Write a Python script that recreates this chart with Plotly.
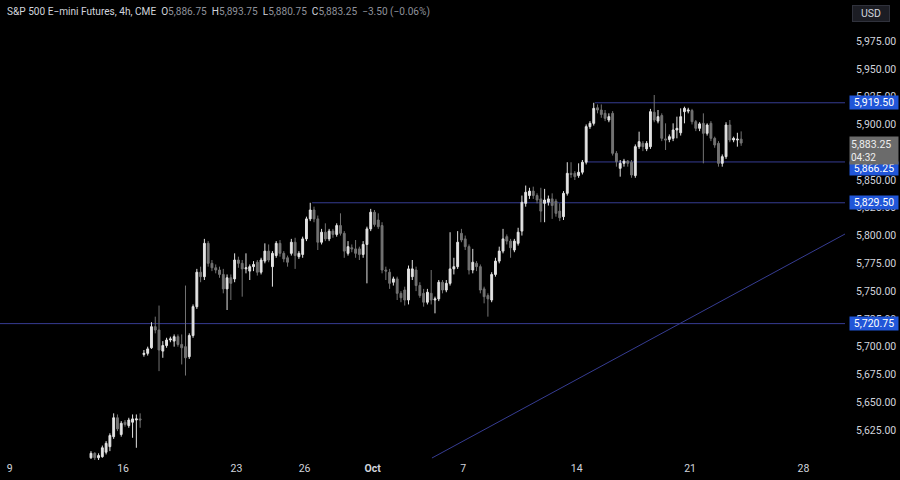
import plotly.graph_objects as go

# ---------------- data (4h candles, S&P 500 E-mini, CME) ----------------
opens = [
    5600, 5604, 5600, 5601, 5605, 5610, 5619, 5636, 5621, 5632,
    5629, 5632, 5634, 5635, 5693, 5694, 5699, 5718, 5715, 5696,
    5701, 5706, 5705, 5709, 5702, 5700, 5691, 5710, 5736, 5767,
    5763, 5793, 5775, 5771, 5769, 5765, 5752, 5762, 5761, 5778,
    5775, 5770, 5768, 5772, 5776, 5767, 5777, 5786, 5772, 5782,
    5793, 5784, 5780, 5784, 5794, 5781, 5783, 5797, 5815, 5823,
    5815, 5794, 5803, 5797, 5804, 5801, 5809, 5802, 5784, 5789,
    5788, 5788, 5783, 5792, 5806, 5821, 5814, 5809, 5769, 5767,
    5758, 5761, 5748, 5751, 5742, 5763, 5769, 5755, 5748, 5740,
    5748, 5742, 5743, 5758, 5751, 5757, 5770, 5772, 5802, 5797,
    5790, 5769, 5775, 5772, 5752, 5746, 5742, 5765, 5777, 5786,
    5799, 5795, 5787, 5793, 5804, 5829, 5836, 5840, 5836, 5833,
    5829, 5830, 5833, 5831, 5822, 5817, 5838, 5856, 5856, 5854,
    5857, 5866, 5898, 5901, 5915, 5913, 5910, 5904, 5910, 5874,
    5860.5, 5865, 5867, 5866, 5854, 5880, 5883, 5878, 5880, 5911,
    5903, 5908, 5887, 5886.5, 5887.5, 5895, 5892.5, 5911.5, 5912, 5912.5,
    5902.5, 5896.5, 5901, 5892, 5901, 5887.5, 5883, 5865, 5871, 5899.5,
    5886, 5886, 5886.75,
]
highs = [
    5606, 5605, 5604, 5611, 5615, 5622, 5640, 5639, 5633, 5634,
    5636, 5639, 5639, 5640, 5697, 5700, 5722, 5727, 5737, 5705,
    5708, 5709, 5711, 5711, 5711, 5755, 5712, 5738, 5770, 5772,
    5797, 5795, 5778, 5774, 5772, 5770, 5765, 5765, 5784, 5781,
    5778, 5784, 5774, 5777, 5778, 5780, 5793, 5792, 5786, 5795,
    5796, 5786, 5782, 5797, 5798, 5786, 5799, 5817, 5829.5, 5826,
    5818, 5806, 5811, 5806, 5806, 5811, 5820, 5804, 5795, 5792,
    5796, 5790, 5795, 5808, 5824, 5823, 5820, 5812, 5772, 5770,
    5763, 5763, 5750, 5754, 5773, 5778, 5772, 5758, 5752, 5752,
    5769, 5745, 5760, 5760, 5760, 5803, 5780, 5804, 5806, 5800,
    5792, 5788, 5777, 5774, 5754, 5748, 5767, 5780, 5790, 5806,
    5801, 5797, 5797, 5807, 5836, 5845, 5843, 5844, 5838, 5843,
    5842, 5836, 5838, 5833, 5829, 5840, 5866, 5866, 5858, 5865,
    5868, 5900, 5903, 5919.5, 5918, 5918, 5913, 5910, 5912, 5876,
    5868, 5869, 5868, 5868, 5882, 5893.5, 5885, 5885, 5914, 5926.5,
    5913, 5910, 5901, 5891, 5901, 5907, 5914.5, 5916, 5915, 5914,
    5904, 5902, 5910, 5901, 5903, 5889, 5885, 5873, 5902, 5904,
    5889, 5892.5, 5893.75,
]
lows = [
    5599, 5598, 5598, 5600, 5603, 5606, 5617, 5624, 5619, 5628,
    5627, 5618, 5609, 5627, 5691, 5692, 5698, 5712, 5678, 5690,
    5699, 5704, 5700, 5700, 5684, 5674, 5689, 5708, 5734, 5758,
    5760, 5772, 5768, 5766, 5762, 5748, 5733, 5742, 5758, 5771,
    5745, 5766, 5760, 5768, 5764, 5765, 5775, 5776, 5754, 5780,
    5781, 5776, 5772, 5782, 5770, 5779, 5780, 5795, 5813, 5812,
    5787, 5792, 5795, 5795, 5798, 5799, 5800, 5780, 5782, 5785,
    5780, 5778, 5780, 5757, 5804, 5808, 5806, 5766, 5760, 5752,
    5755, 5742, 5740, 5737, 5738, 5760, 5750, 5744, 5736, 5738,
    5738, 5730, 5741, 5748, 5749, 5755, 5765, 5770, 5794, 5787,
    5765, 5766, 5768, 5748, 5739, 5727, 5740, 5763, 5775, 5784,
    5792, 5780, 5785, 5791, 5800, 5826, 5833, 5833, 5829, 5812,
    5812, 5827, 5815, 5817, 5813, 5814, 5836, 5852, 5850, 5852,
    5855, 5864, 5896, 5899, 5910, 5906, 5903, 5902, 5872, 5862,
    5853, 5862, 5862, 5852, 5852, 5878, 5876, 5876, 5878, 5902,
    5901, 5885, 5877, 5884, 5885, 5887.5, 5890, 5901, 5910, 5900,
    5894, 5894, 5865, 5890, 5885, 5879, 5862, 5862, 5869, 5884,
    5884, 5880, 5880.75,
]
closes = [
    5604, 5600, 5602, 5609, 5613, 5620, 5636, 5626, 5631, 5630,
    5634, 5635, 5635, 5634, 5694, 5698, 5718, 5715, 5697, 5701,
    5706, 5707, 5709, 5702, 5699, 5690, 5710, 5736, 5767, 5763,
    5793, 5775, 5771, 5769, 5765, 5752, 5762, 5757, 5778, 5775,
    5770, 5771, 5772, 5774, 5767, 5778, 5786, 5778, 5784, 5793,
    5784, 5779, 5776, 5794, 5782, 5784, 5797, 5815, 5823, 5815,
    5794, 5803, 5797, 5804, 5801, 5809, 5802, 5786, 5790, 5788,
    5784, 5783, 5792, 5806, 5821, 5810, 5808, 5769, 5768, 5757,
    5761, 5748, 5744, 5742, 5770, 5770, 5755, 5746, 5740, 5749,
    5742, 5743, 5758, 5751, 5757, 5770, 5772, 5794, 5796, 5790,
    5769, 5776, 5772, 5751, 5745, 5743, 5765, 5777, 5786, 5797,
    5795, 5789, 5795, 5803, 5830, 5839, 5840, 5836, 5832, 5822,
    5832, 5833, 5827, 5820, 5816, 5838, 5856, 5855, 5853, 5857,
    5866, 5898, 5901, 5914.5, 5913, 5909, 5905.5, 5907, 5874, 5866.5,
    5865, 5867, 5865, 5854.5, 5880, 5884.5, 5880, 5883, 5911.5, 5904,
    5907, 5887.5, 5886, 5889, 5895, 5896.5, 5907, 5914.5, 5913, 5902.5,
    5896.5, 5900.5, 5892, 5899.5, 5887.5, 5881.5, 5865, 5871, 5899.5, 5886,
    5887.5, 5886.75, 5883.25,
]

# date axis labels (trading-day offsets from Sep 9; 6 four-hour bars per day)
date_labels = ["9", "16", "23", "26", "<b>Oct</b>", "7", "14", "21", "28"]
date_day_offsets = [0, 5, 10, 13, 16, 20, 25, 30, 35]
first_bar_offset = -22           # bar index of Sep 9 session start
bars_per_day = 6

price_ticks = [5625, 5650, 5675, 5700, 5725, 5750, 5775, 5800, 5825,
               5850, 5900, 5925, 5950, 5975]

# drawn horizontal levels: (price, bar index where line starts)
levels = [5919.50, 5866.25, 5829.50, 5720.75]
level_starts = [133.3, 131.1, 58.5, None]
level_tag_shift = [0, -7, 0, 0]

countdown = "04:32"

# ---------------- styling ----------------
BG = "#000000"
INC = "#e3e3e3"
DEC = "#737373"
LINE = "#363c92"
TAG_BLUE = "#2156d8"
TEXT = "#d1d4dc"
MUTED = "#8f929b"
FONT = "Roboto, 'Noto Sans', sans-serif"

X_MIN, X_MAX = -24.07, 199.47
Y_MIN, Y_MAX = 5598, 6012

idx = list(range(len(closes)))

fig = go.Figure()
fig.add_trace(go.Candlestick(
    x=idx, open=opens, high=highs, low=lows, close=closes,
    increasing=dict(line=dict(color=INC, width=1), fillcolor=INC),
    decreasing=dict(line=dict(color=DEC, width=1), fillcolor=DEC),
    whiskerwidth=0, hoverinfo="skip", showlegend=False,
))

shapes = []
for price, start in zip(levels, level_starts):
    x0 = X_MIN if start is None else start
    shapes.append(dict(type="line", xref="x", yref="y", x0=x0, x1=X_MAX,
                       y0=price, y1=price, line=dict(color=LINE, width=1),
                       layer="below"))
# rising trendline
shapes.append(dict(type="line", xref="x", yref="y", x0=90.2, y0=5599.8,
                   x1=X_MAX, y1=5801.4, line=dict(color=LINE, width=1),
                   layer="below"))

annotations = []
for price, shift in zip(levels, level_tag_shift):
    annotations.append(dict(
        xref="paper", x=1, xanchor="left", xshift=4,
        yref="y", y=price, yanchor="middle", yshift=shift,
        text=f"{price:,.2f}", showarrow=False,
        bgcolor=TAG_BLUE, width=46, height=11, borderpad=1,
        font=dict(family=FONT, size=10.5, color="#ffffff"),
    ))

last = closes[-1]
prev = closes[-2]
chg = last - prev
pct = chg / prev * 100
annotations.append(dict(
    xref="paper", x=1, xanchor="left", xshift=4,
    yref="y", y=last, yanchor="middle", yshift=-7,
    text=f"{last:,.2f}<br><span style='font-size:10px'>{countdown}</span>",
    showarrow=False, align="left",
    bgcolor="#6b6b6b", width=46, height=25, borderpad=1,
    font=dict(family=FONT, size=10.5, color="#eeeeee"),
))

sp = "\u00a0\u00a0"
def fmt(v):
    return f"{v:,.2f}"
title = (f"<span style='color:{TEXT}'>S&amp;P 500 E-mini Futures, 4h, CME</span>{sp}"
         f"<span style='color:{TEXT}'>O</span><span style='color:{MUTED}'>{fmt(opens[-1])}</span>{sp}"
         f"<span style='color:{TEXT}'>H</span><span style='color:{MUTED}'>{fmt(highs[-1])}</span>{sp}"
         f"<span style='color:{TEXT}'>L</span><span style='color:{MUTED}'>{fmt(lows[-1])}</span>{sp}"
         f"<span style='color:{TEXT}'>C</span><span style='color:{MUTED}'>{fmt(last)}</span>{sp}"
         f"<span style='color:{MUTED}'>{chg:+.2f} ({pct:+.2f}%)</span>").replace("-", "\u2212")
annotations.append(dict(
    xref="paper", x=0, xanchor="left", xshift=5,
    yref="paper", y=1, yanchor="top", yshift=-4,
    text=title, showarrow=False,
    font=dict(family=FONT, size=10.1, color=TEXT),
))
annotations.append(dict(
    xref="paper", x=1, xanchor="left", xshift=7,
    yref="paper", y=1, yanchor="top", yshift=-5,
    text="USD", showarrow=False,
    bgcolor="#1c1d24", bordercolor="#30323c", borderwidth=1,
    width=34, height=13, borderpad=1,
    font=dict(family=FONT, size=10.5, color=TEXT),
))

tick_pos = [first_bar_offset + bars_per_day * d + 0.5 for d in date_day_offsets]

fig.update_layout(
    width=900, height=480,
    margin=dict(l=0, r=55, t=0, b=20, autoexpand=False),
    paper_bgcolor=BG, plot_bgcolor=BG,
    shapes=shapes, annotations=annotations,
    showlegend=False,
    xaxis=dict(range=[X_MIN, X_MAX], rangeslider=dict(visible=False),
               showgrid=False, zeroline=False, showline=False, automargin=False,
               tickmode="array", tickvals=tick_pos, ticktext=date_labels,
               tickfont=dict(family=FONT, size=10.5, color=TEXT), ticks=""),
    yaxis=dict(range=[Y_MIN, Y_MAX], side="right", showgrid=False, automargin=False,
               zeroline=False, showline=False, tickmode="array",
               tickvals=price_ticks, ticktext=[f"{v:,.2f}" for v in price_ticks],
               tickfont=dict(family=FONT, size=10.5, color=TEXT), ticks="",
               ticklabelstandoff=10),
)

fig.write_html("out.html", config={"displayModeBar": False},
               post_script="document.body.style.margin='0';document.body.style.background='#000';")
